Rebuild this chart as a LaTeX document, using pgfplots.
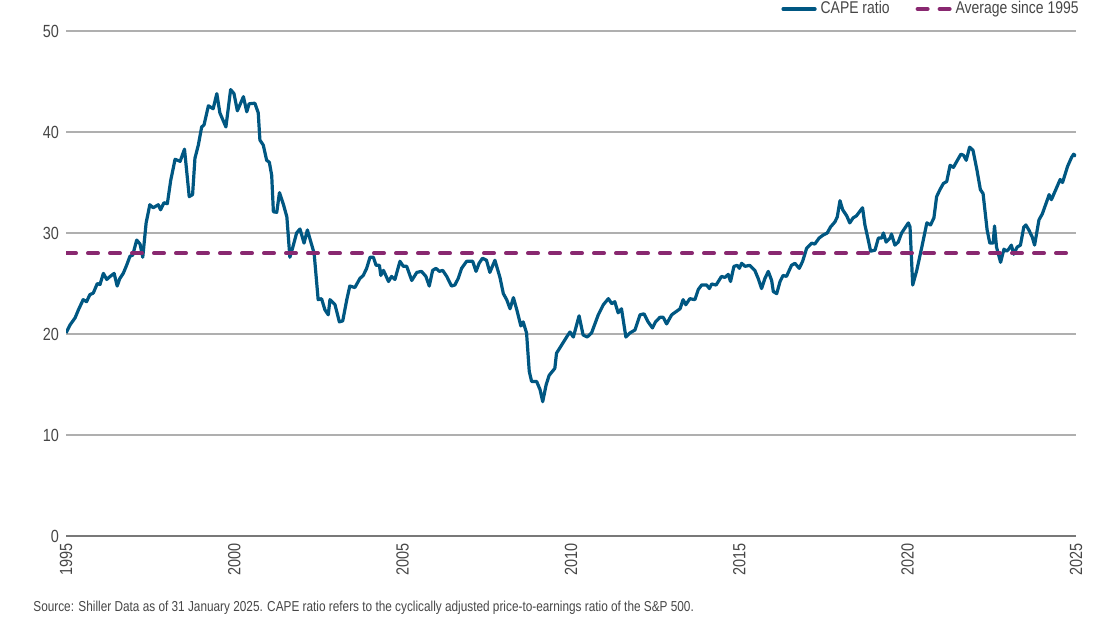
\documentclass[border=0pt]{standalone}
\usepackage{pgfplots}
\pgfplotsset{compat=1.18}
\usepackage{fontspec}
\setmainfont{Liberation Sans}[FakeStretch=0.82]
\definecolor{capeblue}{RGB}{0,87,130}
\definecolor{avgpurple}{RGB}{137,40,112}
\definecolor{gridgrey}{RGB}{175,175,175}
\definecolor{zerogrey}{RGB}{120,120,120}
\definecolor{txtgrey}{RGB}{70,70,70}
\begin{document}
\begin{tikzpicture}
\useasboundingbox (0,0) rectangle (557.5pt,311.5pt);
\begin{axis}[
  at={(33pt,43.5pt)}, anchor=south west,
  scale only axis, width=505pt, height=252.5pt,
  xmin=1995, xmax=2025, ymin=0, ymax=50,
  axis line style={draw=none},
  tick style={draw=none},
  xtick={1995,2000,...,2025},
  ytick={10,20,30,40,50},
  extra y ticks={0}, extra y tick labels={0},
  extra y tick style={grid style={zerogrey, line width=0.9pt}},
  ymajorgrids, grid style={gridgrey, line width=0.55pt},
  /pgf/number format/assume math mode=true,
  /pgf/number format/1000 sep={},
  ticklabel style={font=\fontsize{8.8}{10}\selectfont, text=txtgrey},
  xticklabel style={rotate=90, anchor=east},
  legend style={at={(1,1)}, anchor=east, xshift=3.5pt, yshift=11pt, draw=none, fill=none,
    legend columns=2, font=\fontsize{8.5}{10}\selectfont, text=txtgrey,
    inner xsep=0pt, inner ysep=1pt,
    /tikz/every even column/.append style={column sep=11pt}},
  legend cell align=left,
  legend image code/.code={\draw[#1, line cap=round] (0pt,0pt) -- (16pt,0pt);},
]
\addplot[capeblue, line width=1.6pt, line join=round]
  table {
1995.00 20.1
1995.12 20.9
1995.27 21.6
1995.37 22.4
1995.51 23.4
1995.61 23.2
1995.71 23.9
1995.81 24.05
1995.93 25.0
1996.01 24.9
1996.11 26.0
1996.21 25.4
1996.31 25.7
1996.43 26.0
1996.52 24.75
1996.60 25.5
1996.70 26.0
1996.80 26.8
1996.90 27.7
1996.98 27.8
1997.10 29.3
1997.20 28.9
1997.28 27.6
1997.38 31.0
1997.49 32.8
1997.59 32.5
1997.74 32.8
1997.81 32.3
1997.91 33.0
1998.01 32.9
1998.11 35.2
1998.24 37.3
1998.39 37.1
1998.52 38.3
1998.66 33.6
1998.76 33.8
1998.83 37.4
1998.93 38.7
1999.03 40.5
1999.10 40.7
1999.23 42.6
1999.37 42.3
1999.48 43.8
1999.57 41.9
1999.75 40.5
1999.89 44.2
1999.99 43.8
2000.09 42.1
2000.27 43.5
2000.37 42.0
2000.44 42.8
2000.61 42.85
2000.71 41.9
2000.76 39.2
2000.86 38.7
2000.96 37.2
2001.04 37.0
2001.11 35.7
2001.16 32.1
2001.26 32.05
2001.34 34.0
2001.46 32.8
2001.56 31.6
2001.65 27.6
2001.73 28.5
2001.85 30.0
2001.95 30.4
2002.07 29.0
2002.17 30.3
2002.30 28.8
2002.37 28.0
2002.49 23.4
2002.59 23.5
2002.69 22.4
2002.79 21.9
2002.84 23.4
2002.99 22.9
2003.12 21.2
2003.22 21.3
2003.34 23.4
2003.43 24.75
2003.58 24.6
2003.73 25.5
2003.83 25.8
2003.93 26.5
2004.03 27.6
2004.13 27.6
2004.21 26.8
2004.31 26.8
2004.35 25.8
2004.43 26.3
2004.58 25.2
2004.67 25.7
2004.77 25.4
2004.92 27.2
2005.02 26.7
2005.12 26.7
2005.27 25.3
2005.42 26.1
2005.56 26.2
2005.69 25.7
2005.79 24.75
2005.89 26.3
2005.99 26.5
2006.09 26.2
2006.19 26.3
2006.31 25.7
2006.45 24.75
2006.55 24.85
2006.65 25.5
2006.75 26.5
2006.90 27.2
2007.08 27.2
2007.18 26.2
2007.27 27.0
2007.37 27.5
2007.49 27.3
2007.59 26.1
2007.74 27.3
2007.89 25.6
2007.99 24.0
2008.09 23.4
2008.19 22.5
2008.29 23.6
2008.39 22.4
2008.51 20.8
2008.58 21.2
2008.68 20.1
2008.76 16.3
2008.83 15.3
2008.98 15.3
2009.08 14.5
2009.16 13.3
2009.26 14.95
2009.35 15.9
2009.52 16.6
2009.57 18.1
2009.72 18.9
2009.87 19.7
2009.97 20.2
2010.07 19.7
2010.24 21.8
2010.36 19.9
2010.48 19.7
2010.61 20.1
2010.81 21.9
2010.96 22.9
2011.11 23.5
2011.21 23.0
2011.30 23.2
2011.40 22.1
2011.50 22.5
2011.63 19.7
2011.75 20.1
2011.90 20.4
2012.05 21.9
2012.17 22.0
2012.29 21.2
2012.42 20.6
2012.51 21.2
2012.64 21.65
2012.74 21.65
2012.84 21.0
2012.99 21.9
2013.24 22.5
2013.33 23.4
2013.41 22.9
2013.53 23.5
2013.68 23.4
2013.78 24.4
2013.88 24.85
2014.03 24.85
2014.11 24.5
2014.18 24.95
2014.31 24.85
2014.47 25.7
2014.57 25.6
2014.67 25.9
2014.74 25.2
2014.84 26.7
2014.94 26.8
2015.00 26.5
2015.07 27.0
2015.17 26.7
2015.31 26.8
2015.46 26.3
2015.56 25.5
2015.66 24.5
2015.76 25.5
2015.86 26.2
2015.96 25.3
2016.01 24.2
2016.11 24.0
2016.21 25.2
2016.30 25.8
2016.40 25.7
2016.55 26.8
2016.65 27.0
2016.78 26.5
2016.88 27.2
2017.00 28.5
2017.15 29.0
2017.24 28.9
2017.37 29.5
2017.49 29.8
2017.61 30.0
2017.71 30.6
2017.84 31.1
2017.91 31.6
2017.99 33.2
2018.07 32.3
2018.19 31.7
2018.28 31.0
2018.38 31.5
2018.48 31.7
2018.66 32.5
2018.73 30.8
2018.83 29.3
2018.90 28.2
2019.03 28.3
2019.13 29.5
2019.23 29.5
2019.28 30.0
2019.36 29.1
2019.48 29.5
2019.52 29.9
2019.62 28.8
2019.72 29.1
2019.82 30.0
2019.92 30.5
2020.02 31.0
2020.07 30.6
2020.15 24.85
2020.27 26.3
2020.42 28.6
2020.57 31.0
2020.68 30.8
2020.78 31.5
2020.86 33.6
2020.96 34.3
2021.06 34.9
2021.16 35.1
2021.26 36.7
2021.36 36.5
2021.46 37.1
2021.58 37.8
2021.66 37.7
2021.74 37.2
2021.84 38.5
2021.94 38.2
2022.06 36.2
2022.16 34.3
2022.24 33.9
2022.36 30.3
2022.44 29.0
2022.54 29.0
2022.58 30.7
2022.64 28.6
2022.76 27.1
2022.86 28.4
2022.94 28.2
2023.00 28.4
2023.08 28.8
2023.15 27.9
2023.25 28.6
2023.35 28.8
2023.45 30.6
2023.51 30.8
2023.60 30.3
2023.70 29.6
2023.77 28.8
2023.90 31.3
2024.00 31.9
2024.15 33.3
2024.20 33.8
2024.27 33.3
2024.40 34.3
2024.53 35.3
2024.60 35.0
2024.75 36.6
2024.87 37.5
2024.93 37.8
2025.00 37.6
};
\addlegendentry{CAPE ratio}
\addplot[avgpurple, line width=2pt, line cap=round, dash pattern=on 5pt off 6pt]
  table {
1995 28.0
2025 28.0
};
\addlegendentry{Average since 1995}
\end{axis}
\node[anchor=base west, inner sep=0pt, text=txtgrey, font=\fontsize{7.2}{8.5}\selectfont]
  at (16.5pt,6pt) {Source: Shiller Data as of 31 January 2025. CAPE ratio refers to the cyclically adjusted price-to-earnings ratio of the S\&P 500.};
\end{tikzpicture}
\end{document}
